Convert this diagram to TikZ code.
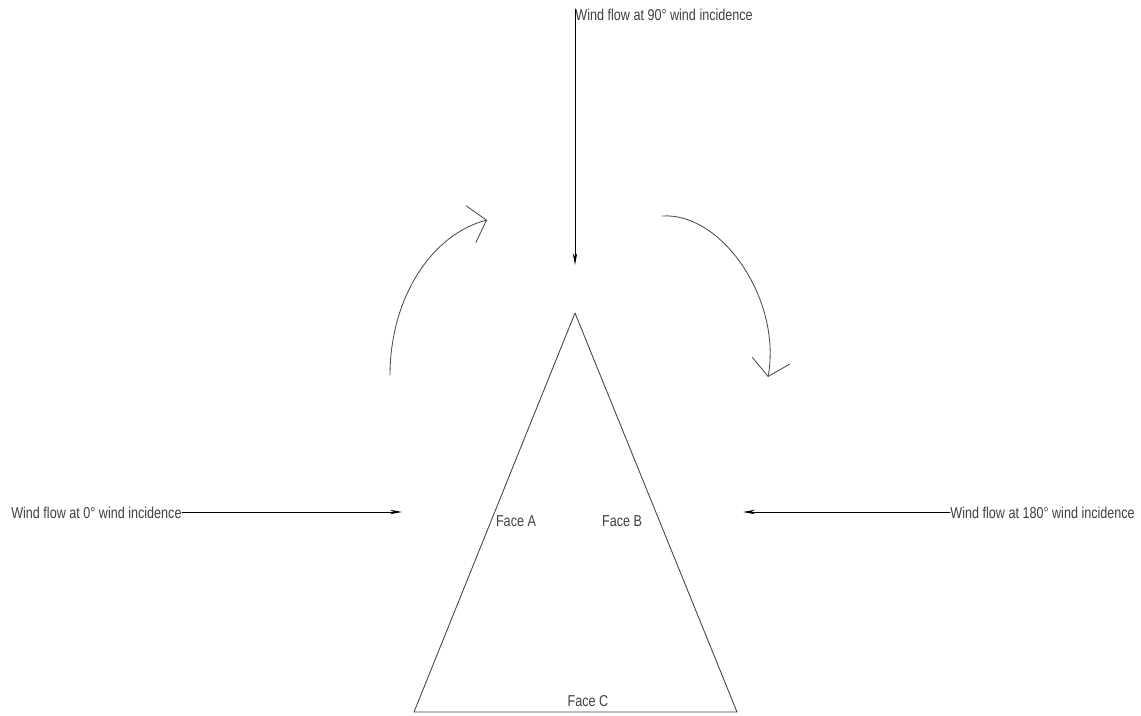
\documentclass[tikz,border=0pt]{standalone}
\usepackage{fontspec}
\setmainfont{Liberation Sans}[FakeStretch=0.8]
\usetikzlibrary{arrows.meta}
\begin{document}
\begin{tikzpicture}[x=0.025cm,y=-0.025cm,line join=round,line cap=round,line width=0.6pt,
	lbl/.style={font=\fontsize{11.2}{13}\selectfont,inner sep=0pt,text=black!75},
	wind/.style={-{Stealth[length=0.3cm,width=0.11cm]}},
	turn/.style={-{Straight Barb[length=0.4cm,width=0.95cm]},black!70}]
	\useasboundingbox (0,0) rectangle (1141,715);
	% triangle
	\coordinate (P) at (575,313); \coordinate (L) at (414,712); \coordinate (R) at (737,712);
	\draw[black!75] (P)--(L)--(R)--cycle;
	\node[lbl] (fa) at (516,521) {Face A};
	\node[lbl] (fb) at (622,521) {Face B};
	\node[lbl] (fc) at (588,701) {Face C};
	% wind directions
	\node[lbl,anchor=north west] (t90) at (575,9) {Wind flow at 90\textdegree\ wind incidence};
	\coordinate (e90) at (575,265);
	\draw[wind] (t90.north west)--(e90);
	\node[lbl,anchor=east] (t0) at (182,513) {Wind flow at 0\textdegree\ wind incidence};
	\coordinate (e0) at (402,512);
	\draw[wind] (t0.east|-e0)--(e0);
	\node[lbl,anchor=west] (t180) at (950,513) {Wind flow at 180\textdegree\ wind incidence};
	\coordinate (e180) at (743,512);
	\draw[wind] (t180.west|-e180)--(e180);
	% rotation arrows
	\coordinate (a1) at (390,375); \coordinate (b1) at (487,220);
	\draw[turn] (a1) .. controls (390,300) and (430,235) .. (b1);
	\coordinate (a2) at (662,216); \coordinate (b2) at (768,377);
	\draw[turn] (a2) .. controls (722,212) and (782,300) .. (b2);
\end{tikzpicture}
\end{document}
